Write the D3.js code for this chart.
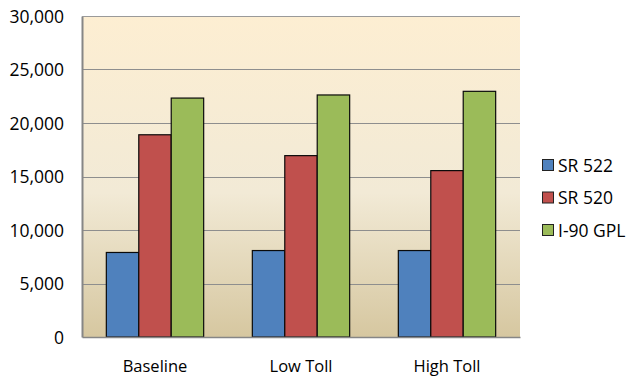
<!DOCTYPE html>
<html>
<head>
<meta charset="utf-8">
<script src="https://cdn.jsdelivr.net/npm/d3@7"></script>
<style>
  html, body { margin: 0; padding: 0; background: #fff; }
  svg { display: block; }
  text { font-family: "Open Sans", "Liberation Sans", sans-serif; fill: #000; }
</style>
</head>
<body>
<svg id="chart" width="628" height="381"></svg>
<script>
// Scenario categories and per-route volumes
const categories = ["Baseline", "Low Toll", "High Toll"];
const seriesNames = ["SR 522", "SR 520", "I-90 GPL"];
const sr522 = [7900, 8080, 8080];
const sr520 = [18900, 16950, 15550];
const i90gpl = [22330, 22620, 22960];
const yTicks = [0, 5000, 10000, 15000, 20000, 25000, 30000];
const seriesColors = ["#4F81BD", "#C0504D", "#9BBB59"];

const seriesValues = [sr522, sr520, i90gpl];

const W = 628, H = 381;
const margin = { top: 16, right: 108, bottom: 44, left: 82 };
const innerW = W - margin.left - margin.right;
const innerH = H - margin.top - margin.bottom;

const svg = d3.select("#chart");

// Plot-area background gradient
const defs = svg.append("defs");
const grad = defs.append("linearGradient")
  .attr("id", "plotBg").attr("x1", 0).attr("y1", 0).attr("x2", 0).attr("y2", 1);
grad.append("stop").attr("offset", "0%").attr("stop-color", "#FDEED2");
grad.append("stop").attr("offset", "55%").attr("stop-color", "#F2EAD6");
grad.append("stop").attr("offset", "100%").attr("stop-color", "#D6C7A0");

const g = svg.append("g").attr("transform", `translate(${margin.left},${margin.top})`);

const x0 = d3.scaleBand().domain(categories).range([0, innerW]).paddingInner(0).paddingOuter(0);
const y = d3.scaleLinear().domain([0, 30000]).range([innerH, 0]);

// Three bars per group with a gap of 1.5 bar widths
const barW = x0.bandwidth() / (seriesNames.length + 1.5);
const x1 = d3.scaleBand().domain(seriesNames)
  .range([barW * 0.75, barW * 0.75 + barW * seriesNames.length]);

g.append("rect")
  .attr("x", 0).attr("y", 0).attr("width", innerW).attr("height", innerH)
  .attr("fill", "url(#plotBg)");

// Gridlines
g.append("g")
  .selectAll("line")
  .data(yTicks.filter(d => d > 0))
  .join("line")
  .attr("x1", 0).attr("x2", innerW)
  .attr("y1", d => Math.round(y(d)) + 0.5).attr("y2", d => Math.round(y(d)) + 0.5)
  .attr("stroke", "#8E8E8E").attr("stroke-width", 1);

// Bars
const groups = g.append("g")
  .selectAll("g")
  .data(categories)
  .join("g")
  .attr("transform", d => `translate(${x0(d)},0)`);

groups.selectAll("rect")
  .data((c, ci) => seriesNames.map((s, si) => ({ s, si, v: seriesValues[si][ci] })))
  .join("rect")
  .attr("x", d => x1(d.s))
  .attr("y", d => y(d.v))
  .attr("width", x1.bandwidth())
  .attr("height", d => innerH - y(d.v))
  .attr("fill", d => seriesColors[d.si])
  .attr("stroke", "#0a0a0a")
  .attr("stroke-width", 1.2);

// Y axis
const yAxis = g.append("g")
  .call(d3.axisLeft(y).tickValues(yTicks).tickFormat(d3.format(",")).tickSize(0).tickPadding(18));
yAxis.select(".domain").attr("stroke", "#868686").attr("stroke-width", 2);
yAxis.selectAll("text").attr("font-size", 17.5).attr("dy", "0.35em");

// X axis
const xAxis = g.append("g")
  .attr("transform", `translate(0,${innerH})`)
  .call(d3.axisBottom(x0).tickSize(0).tickPadding(23));
xAxis.select(".domain").attr("stroke", "#868686").attr("stroke-width", 1.5);
xAxis.selectAll("text").attr("font-size", 16.5).attr("dy", "0.71em");

// Top border of the plot area
g.append("line")
  .attr("x1", 0).attr("x2", innerW).attr("y1", 0.5).attr("y2", 0.5)
  .attr("stroke", "#9A9A9A").attr("stroke-width", 1);

// Legend
const legend = svg.append("g").attr("transform", "translate(542,159)");
const li = legend.selectAll("g")
  .data(seriesNames)
  .join("g")
  .attr("transform", (d, i) => `translate(0,${i * 32.5})`);
li.append("rect")
  .attr("x", 0.5).attr("y", 0.5).attr("width", 11).attr("height", 11)
  .attr("fill", (d, i) => seriesColors[i])
  .attr("stroke", "#222").attr("stroke-width", 1);
li.append("text")
  .attr("x", 16).attr("y", 12.5)
  .attr("font-size", 17.5)
  .text(d => d);
</script>
</body>
</html>
